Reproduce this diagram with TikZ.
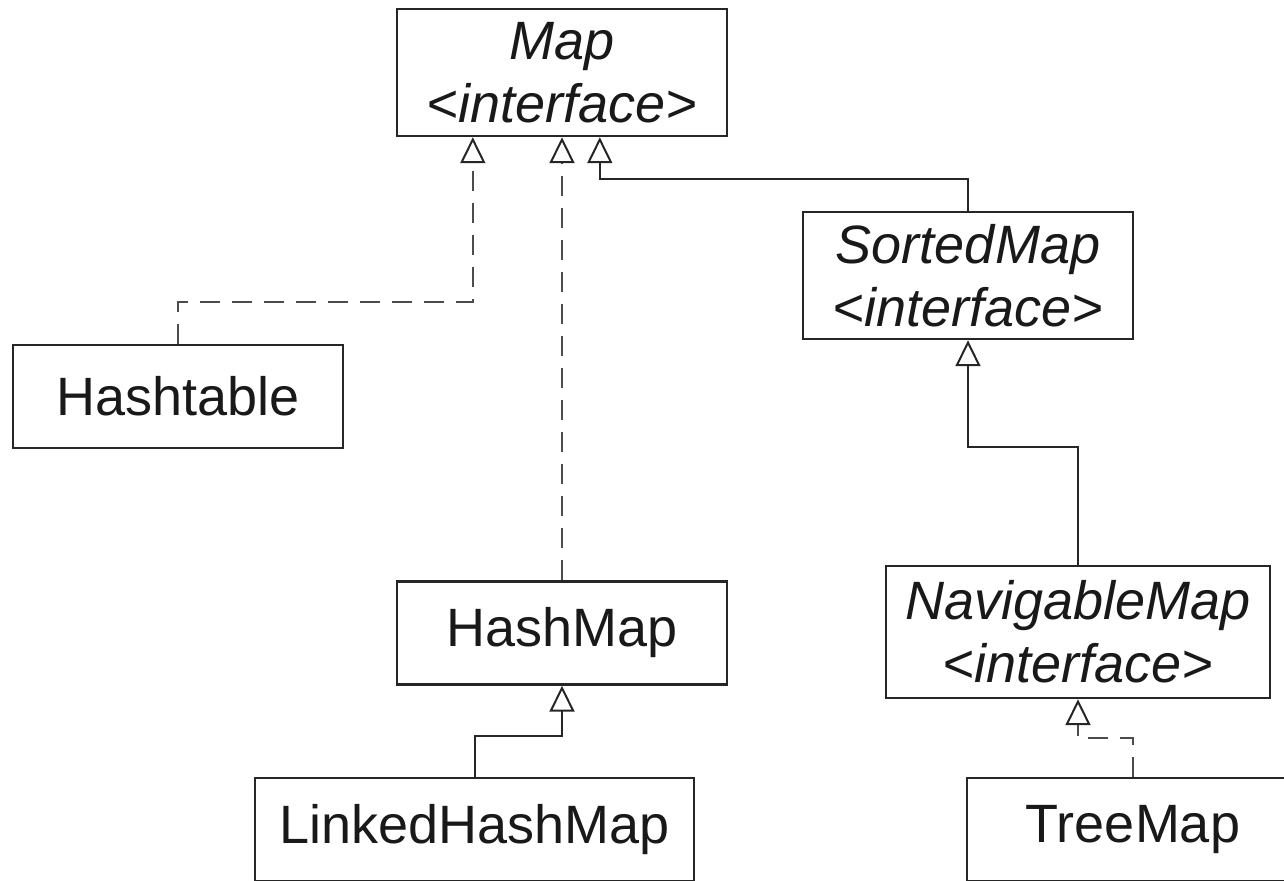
\documentclass[tikz,border=0pt]{standalone}
\usepackage{fontspec}
\setmainfont{Liberation Sans}
\usepackage{tikz}
\usetikzlibrary{calc,arrows.meta}
\tikzset{
    classbox/.style={draw=black!85, line width=1.2pt, text=black!90, inner sep=0pt,
        minimum width=165pt, minimum height=51.5pt, font=\fontsize{27pt}{31.5pt}\selectfont},
    ifacebox/.style={classbox, align=center, minimum height=63.5pt,
        font=\fontsize{27pt}{31.5pt}\selectfont\itshape},
    extend/.style={draw=black!85, line width=1pt,
        -{Triangle[open,length=13pt,width=12.5pt,color=black!85,line width=1pt]}},
    realize/.style={extend, draw=black!70, line width=1.3pt, dash pattern=on 10pt off 6pt}
}

\begin{document}
\begin{tikzpicture}[x=0.5pt,y=0.5pt,yscale=-1,xscale=1]
		\clip (0,0) rectangle (1284,880); %picture is 1284 wide, 880 high
		
		% Text Node
		\draw (562,72.5) node (map) [ifacebox] {Map\\<interface>};
		% Text Node
		\draw (968,275.5) node (sortedmap) [ifacebox] {SortedMap\\<interface>};
		% Text Node
		\draw (178,396.5) node (hashtable) [classbox] {Hashtable};
		% Text Node
		\draw (562,633) node (hashmap) [classbox] {HashMap};
		% Text Node
		\draw (1078,632) node (navmap) [ifacebox, minimum width=192pt, minimum height=66pt] {NavigableMap\\<interface>};
		% Text Node
		\draw (474.5,829.5) node (linkedmap) [classbox, minimum width=219.5pt] {LinkedHashMap};
		% Text Node
		\draw (1133,829.5) node (treemap) [classbox, minimum width=166pt] {TreeMap};
		
		% Connection
		\coordinate (mapfootA) at ($(map.south west)+(77,0)$);
		\draw [realize] (hashtable.north) -- ++(0,-42) -| (mapfootA);
		
		% Connection
		\draw [realize] (hashmap.north) -- (map.south);
		
		% Connection
		\coordinate (mapfootC) at ($(map.south west)+(204,0)$);
		\draw [extend] (sortedmap.north) -- ++(0,-32) -| (mapfootC);
		
		% Connection
		\draw [extend] (navmap.north) -- ++(0,-118) -| (sortedmap.south);
		
		% Connection
		\draw [extend] (linkedmap.north) -- ++(0,-41) -| (hashmap.south);
		
		% Connection
		\draw [realize] (treemap.north) -- ++(0,-39) -| (navmap.south);
		
		
		\end{tikzpicture}
\end{document}
